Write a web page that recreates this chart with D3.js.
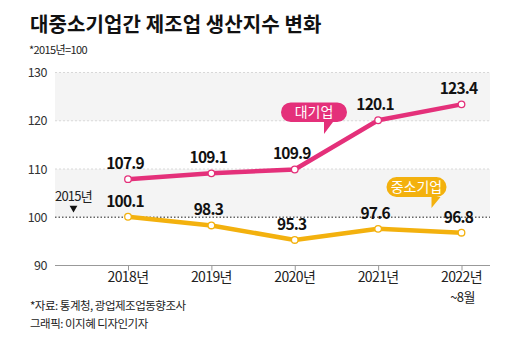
<!DOCTYPE html>
<html>
<head>
<meta charset="utf-8">
<script src="https://cdn.jsdelivr.net/npm/d3@7"></script>
<style>
  body { margin: 0; background: #fff; }
  text { font-family: "Noto Sans CJK KR", "Noto Sans", sans-serif; }
</style>
</head>
<body>
<script>
// chart values
let years = ["2018년", "2019년", "2020년", "2021년", "2022년"];
let yearNotes = ["", "", "", "", "~8월"];          // second line under the year
let large = [107.9, 109.1, 109.9, 120.1, 123.4];   // 대기업
let small = [100.1, 98.3, 95.3, 97.6, 96.8];       // 중소기업
let yTicks = [90, 100, 110, 120, 130];

let width = 520, height = 349;
let pink = "#e4307a", yellow = "#f3b10e";

let svg = d3.select("body").append("svg")
    .attr("width", width)
    .attr("height", height);

let x = d3.scalePoint().domain(years).range([128, 461.5]);
let y = d3.scaleLinear().domain([90, 130]).range([265.5, 72.5]);
let left = 55, right = 490;

// alternating bands
[[120, 130], [100, 110]].forEach(function (b) {
    svg.append("rect")
        .attr("x", left).attr("y", y(b[1]))
        .attr("width", right - left).attr("height", y(b[0]) - y(b[1]))
        .attr("fill", "#f4f4f4");
});

// grid lines
svg.selectAll(".grid")
    .data([110, 120, 130])
    .enter().append("line")
    .attr("x1", left).attr("x2", right)
    .attr("y1", d => y(d)).attr("y2", d => y(d))
    .attr("stroke", "#d8d8d8")
    .attr("stroke-dasharray", "2,2");

// base line at 100
svg.append("line")
    .attr("x1", left).attr("x2", right)
    .attr("y1", y(100)).attr("y2", y(100))
    .attr("stroke", "#666")
    .attr("stroke-width", 1.3)
    .attr("stroke-dasharray", "1.5,2");

// y tick labels
svg.selectAll(".ytick")
    .data(yTicks)
    .enter().append("text")
    .attr("x", 47).attr("y", d => y(d) + 4.5)
    .attr("text-anchor", "end")
    .attr("font-size", 12.5)
    .attr("fill", "#333")
    .attr("letter-spacing", -0.5)
    .text(d => d);

// x axis
let xAxis = d3.axisBottom(x).tickSize(5).tickFormat("");
let gx = svg.append("g")
    .attr("transform", "translate(0," + y(90) + ")")
    .call(xAxis);
gx.select(".domain").attr("d", "M" + left + ",0H" + right).attr("stroke", "#999");
gx.selectAll(".tick line").attr("stroke", "#999");

let xlab = svg.selectAll(".xlab")
    .data(years)
    .enter().append("text")
    .attr("y", 282)
    .attr("text-anchor", "middle")
    .attr("font-size", 14)
    .attr("fill", "#222")
    .attr("letter-spacing", -0.6);
xlab.append("tspan")
    .attr("x", d => x(d))
    .text(d => d);
xlab.filter(d => yearNotes[years.indexOf(d)] !== "")
    .append("tspan")
    .attr("x", d => x(d) + 1)
    .attr("dy", 19.5)
    .attr("font-size", 13)
    .text(d => yearNotes[years.indexOf(d)]);

// lines and points
let line = d3.line().x((d, i) => x(years[i])).y(d => y(d));

function series(vals, color, labelDy) {
    svg.append("path")
        .datum(vals)
        .attr("d", line)
        .attr("fill", "none")
        .attr("stroke", color)
        .attr("stroke-width", 4.5)
        .attr("stroke-linejoin", "round");
    svg.selectAll(null)
        .data(vals)
        .enter().append("circle")
        .attr("cx", (d, i) => x(years[i])).attr("cy", d => y(d))
        .attr("r", 3.3)
        .attr("fill", "#fff")
        .attr("stroke", color)
        .attr("stroke-width", 1.3);
    svg.selectAll(null)
        .data(vals)
        .enter().append("text")
        .attr("x", (d, i) => x(years[i]) - 3).attr("y", d => y(d) + labelDy)
        .attr("text-anchor", "middle")
        .attr("font-size", 15.5)
        .attr("font-weight", "bold")
        .attr("fill", "#111")
        .attr("letter-spacing", -0.8)
        .text(d => d.toFixed(1));
}
series(large, pink, -10);
series(small, yellow, -10);

// callout bubbles
function bubble(x0, y0, w, h, tipX, tipY, color, label) {
    let r = h / 2;
    let p = "M" + (x0 + r) + "," + y0 +
        "H" + (x0 + w - r) +
        "A" + r + "," + r + " 0 0 1 " + (x0 + w - r) + "," + (y0 + h) +
        "H" + (tipX + 9) +
        "L" + tipX + "," + tipY +
        "V" + (y0 + h) +
        "H" + (x0 + r) +
        "A" + r + "," + r + " 0 0 1 " + (x0 + r) + "," + y0 + "Z";
    svg.append("path").attr("d", p).attr("fill", color);
    svg.append("text")
        .attr("x", x0 + w / 2).attr("y", y0 + h / 2 + 5)
        .attr("text-anchor", "middle")
        .attr("font-size", 14)
        .attr("fill", "#fff")
        .text(label);
}
bubble(281, 102.5, 66, 19.5, 324, 134, pink, "대기업");
bubble(386.5, 177, 60, 20, 431.5, 208, yellow, "중소기업");

// 2015 marker
svg.append("text")
    .attr("x", 55).attr("y", 201)
    .attr("font-size", 13)
    .attr("fill", "#222")
    .attr("letter-spacing", -0.8)
    .text("2015년");
svg.append("path")
    .attr("d", d3.symbol().type(d3.symbolTriangle).size(26))
    .attr("transform", "translate(73.5,208) rotate(180)")
    .attr("fill", "#111");

// titles
svg.append("text")
    .attr("x", 30).attr("y", 32)
    .attr("font-size", 20)
    .attr("font-weight", "bold")
    .attr("fill", "#111")
    .attr("letter-spacing", 0.1)
    .text("대중소기업간 제조업 생산지수 변화");
svg.append("text")
    .attr("x", 29).attr("y", 54)
    .attr("font-size", 11)
    .attr("fill", "#222")
    .attr("letter-spacing", -0.6)
    .text("*2015년=100");

// source
svg.append("text")
    .attr("x", 30).attr("y", 310)
    .attr("font-size", 11.5)
    .attr("fill", "#222")
    .attr("letter-spacing", -0.5)
    .text("*자료: 통계청, 광업제조업동향조사");
svg.append("text")
    .attr("x", 30).attr("y", 328)
    .attr("font-size", 11.5)
    .attr("fill", "#222")
    .attr("letter-spacing", -0.5)
    .text("그래픽: 이지혜 디자인기자");
</script>
</body>
</html>
